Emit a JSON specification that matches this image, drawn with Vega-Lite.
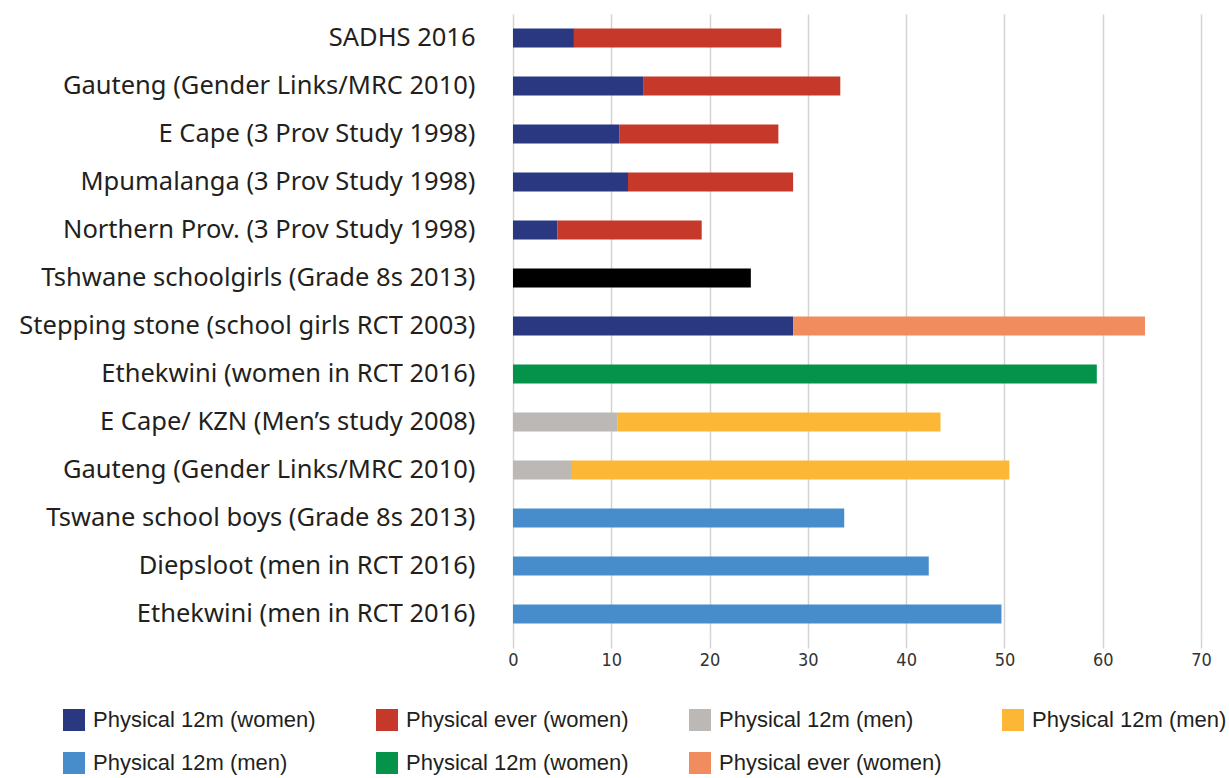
{
  "$schema": "https://vega.github.io/schema/vega-lite/v6.json",
  "width": 688,
  "height": 624,
  "autosize": {"type": "none"},
  "padding": {"left": 513, "top": 14, "right": 28, "bottom": 140},
  "background": "white",
  "data": {
    "values": [
      {"row": 1, "series": "a", "seg": 1, "value": 6.2},
      {"row": 1, "series": "b", "seg": 2, "value": 21.1},
      {"row": 2, "series": "a", "seg": 1, "value": 13.3},
      {"row": 2, "series": "b", "seg": 2, "value": 20.0},
      {"row": 3, "series": "a", "seg": 1, "value": 10.8},
      {"row": 3, "series": "b", "seg": 2, "value": 16.2},
      {"row": 4, "series": "a", "seg": 1, "value": 11.7},
      {"row": 4, "series": "b", "seg": 2, "value": 16.8},
      {"row": 5, "series": "a", "seg": 1, "value": 4.5},
      {"row": 5, "series": "b", "seg": 2, "value": 14.7},
      {"row": 6, "series": "h", "seg": 1, "value": 24.2},
      {"row": 7, "series": "a", "seg": 1, "value": 28.5},
      {"row": 7, "series": "g", "seg": 2, "value": 35.8},
      {"row": 8, "series": "f", "seg": 1, "value": 59.4},
      {"row": 9, "series": "c", "seg": 1, "value": 10.6},
      {"row": 9, "series": "d", "seg": 2, "value": 32.9},
      {"row": 10, "series": "c", "seg": 1, "value": 5.9},
      {"row": 10, "series": "d", "seg": 2, "value": 44.6},
      {"row": 11, "series": "e", "seg": 1, "value": 33.7},
      {"row": 12, "series": "e", "seg": 1, "value": 42.3},
      {"row": 13, "series": "e", "seg": 1, "value": 49.7}
    ]
  },
  "mark": {"type": "bar"},
  "encoding": {
    "y": {
      "field": "row",
      "type": "ordinal",
      "scale": {"paddingInner": 0.6, "paddingOuter": 0.3},
      "axis": {
        "title": null,
        "domain": false,
        "ticks": false,
        "grid": false,
        "labelPadding": 38,
        "labelFont": "Noto Sans",
        "labelFontSize": 25.5,
        "labelColor": "#231f20",
        "labelLimit": 520,
        "labelExpr": "['SADHS 2016','Gauteng (Gender Links/MRC 2010)','E Cape (3 Prov Study 1998)','Mpumalanga (3 Prov Study 1998)','Northern Prov. (3 Prov Study 1998)','Tshwane schoolgirls (Grade 8s 2013)','Stepping stone (school girls RCT 2003)','Ethekwini (women in RCT 2016)','E Cape/ KZN (Men’s study 2008)','Gauteng (Gender Links/MRC 2010)','Tswane school boys (Grade 8s 2013)','Diepsloot (men in RCT 2016)','Ethekwini (men in RCT 2016)'][datum.value - 1]"
      }
    },
    "x": {
      "field": "value",
      "type": "quantitative",
      "stack": "zero",
      "scale": {"domain": [0, 70], "nice": false},
      "axis": {
        "title": null,
        "values": [0, 10, 20, 30, 40, 50, 60, 70],
        "grid": true,
        "gridColor": "#d4d4d4",
        "gridWidth": 1.5,
        "domain": false,
        "ticks": true,
        "tickSize": 10,
        "tickColor": "#d4d4d4",
        "tickWidth": 1.5,
        "labelFlush": false,
        "labelPadding": 3,
        "labelFont": "DejaVu Sans Condensed, Liberation Sans",
        "labelFontSize": 18,
        "labelColor": "#333333"
      }
    },
    "color": {
      "field": "series",
      "type": "nominal",
      "scale": {
        "domain": ["a", "b", "c", "d", "e", "f", "g", "h"],
        "range": ["#2a3881", "#c6392a", "#bcb8b6", "#fbb735", "#478dcb", "#05924a", "#f08c5e", "#000000"]
      },
      "legend": {
        "title": null,
        "orient": "none",
        "legendX": -450,
        "legendY": 695,
        "direction": "horizontal",
        "columns": 4,
        "gridAlign": "all",
        "columnPadding": 60,
        "rowPadding": 21,
        "values": ["a", "b", "c", "d", "e", "f", "g"],
        "symbolType": "square",
        "symbolSize": 484,
        "symbolStrokeWidth": 0,
        "labelOffset": 8,
        "labelFont": "Liberation Sans",
        "labelFontSize": 22,
        "labelColor": "#231f20",
        "labelLimit": 400,
        "labelExpr": "{'a':'Physical 12m (women)','b':'Physical ever (women)','c':'Physical 12m (men)','d':'Physical 12m (men)','e':'Physical 12m (men)','f':'Physical 12m (women)','g':'Physical ever (women)'}[datum.value]"
      }
    },
    "order": {"field": "seg", "type": "quantitative"}
  },
  "config": {"view": {"stroke": null}}
}
